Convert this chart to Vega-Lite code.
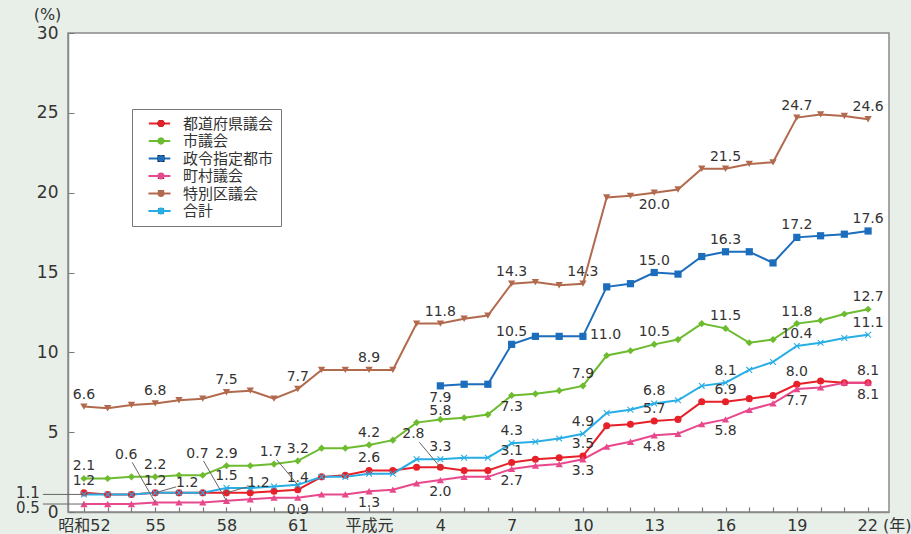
{
 "$schema": "https://vega.github.io/schema/vega-lite/v6.json",
 "width": 821, "height": 479,
 "autosize": {"type": "none"},
 "padding": {"left": 68, "top": 33, "right": 22, "bottom": 22},
 "background": "#e8efe9",
 "config": {
   "view": {"fill": "white", "stroke": "#8a8a8a", "strokeWidth": 1.5},
   "font": "DejaVu Sans, Noto Sans CJK JP, sans-serif"
 },
 "datasets": {
  "main": [
   {"series":"都道府県議会","year":1977,"value":1.2},{"series":"都道府県議会","year":1978,"value":1.1},{"series":"都道府県議会","year":1979,"value":1.1},{"series":"都道府県議会","year":1980,"value":1.2},{"series":"都道府県議会","year":1981,"value":1.2},{"series":"都道府県議会","year":1982,"value":1.2},{"series":"都道府県議会","year":1983,"value":1.2},{"series":"都道府県議会","year":1984,"value":1.2},{"series":"都道府県議会","year":1985,"value":1.3},{"series":"都道府県議会","year":1986,"value":1.4},{"series":"都道府県議会","year":1987,"value":2.2},{"series":"都道府県議会","year":1988,"value":2.3},{"series":"都道府県議会","year":1989,"value":2.6},{"series":"都道府県議会","year":1990,"value":2.6},{"series":"都道府県議会","year":1991,"value":2.8},{"series":"都道府県議会","year":1992,"value":2.8},{"series":"都道府県議会","year":1993,"value":2.6},{"series":"都道府県議会","year":1994,"value":2.6},{"series":"都道府県議会","year":1995,"value":3.1},{"series":"都道府県議会","year":1996,"value":3.3},{"series":"都道府県議会","year":1997,"value":3.4},{"series":"都道府県議会","year":1998,"value":3.5},{"series":"都道府県議会","year":1999,"value":5.4},{"series":"都道府県議会","year":2000,"value":5.5},{"series":"都道府県議会","year":2001,"value":5.7},{"series":"都道府県議会","year":2002,"value":5.8},{"series":"都道府県議会","year":2003,"value":6.9},{"series":"都道府県議会","year":2004,"value":6.9},{"series":"都道府県議会","year":2005,"value":7.1},{"series":"都道府県議会","year":2006,"value":7.3},{"series":"都道府県議会","year":2007,"value":8.0},{"series":"都道府県議会","year":2008,"value":8.2},{"series":"都道府県議会","year":2009,"value":8.1},{"series":"都道府県議会","year":2010,"value":8.1},
   {"series":"市議会","year":1977,"value":2.1},{"series":"市議会","year":1978,"value":2.1},{"series":"市議会","year":1979,"value":2.2},{"series":"市議会","year":1980,"value":2.2},{"series":"市議会","year":1981,"value":2.3},{"series":"市議会","year":1982,"value":2.3},{"series":"市議会","year":1983,"value":2.9},{"series":"市議会","year":1984,"value":2.9},{"series":"市議会","year":1985,"value":3.0},{"series":"市議会","year":1986,"value":3.2},{"series":"市議会","year":1987,"value":4.0},{"series":"市議会","year":1988,"value":4.0},{"series":"市議会","year":1989,"value":4.2},{"series":"市議会","year":1990,"value":4.5},{"series":"市議会","year":1991,"value":5.6},{"series":"市議会","year":1992,"value":5.8},{"series":"市議会","year":1993,"value":5.9},{"series":"市議会","year":1994,"value":6.1},{"series":"市議会","year":1995,"value":7.3},{"series":"市議会","year":1996,"value":7.4},{"series":"市議会","year":1997,"value":7.6},{"series":"市議会","year":1998,"value":7.9},{"series":"市議会","year":1999,"value":9.8},{"series":"市議会","year":2000,"value":10.1},{"series":"市議会","year":2001,"value":10.5},{"series":"市議会","year":2002,"value":10.8},{"series":"市議会","year":2003,"value":11.8},{"series":"市議会","year":2004,"value":11.5},{"series":"市議会","year":2005,"value":10.6},{"series":"市議会","year":2006,"value":10.8},{"series":"市議会","year":2007,"value":11.8},{"series":"市議会","year":2008,"value":12.0},{"series":"市議会","year":2009,"value":12.4},{"series":"市議会","year":2010,"value":12.7},
   {"series":"政令指定都市","year":1992,"value":7.9},{"series":"政令指定都市","year":1993,"value":8.0},{"series":"政令指定都市","year":1994,"value":8.0},{"series":"政令指定都市","year":1995,"value":10.5},{"series":"政令指定都市","year":1996,"value":11.0},{"series":"政令指定都市","year":1997,"value":11.0},{"series":"政令指定都市","year":1998,"value":11.0},{"series":"政令指定都市","year":1999,"value":14.1},{"series":"政令指定都市","year":2000,"value":14.3},{"series":"政令指定都市","year":2001,"value":15.0},{"series":"政令指定都市","year":2002,"value":14.9},{"series":"政令指定都市","year":2003,"value":16.0},{"series":"政令指定都市","year":2004,"value":16.3},{"series":"政令指定都市","year":2005,"value":16.3},{"series":"政令指定都市","year":2006,"value":15.6},{"series":"政令指定都市","year":2007,"value":17.2},{"series":"政令指定都市","year":2008,"value":17.3},{"series":"政令指定都市","year":2009,"value":17.4},{"series":"政令指定都市","year":2010,"value":17.6},
   {"series":"町村議会","year":1977,"value":0.5},{"series":"町村議会","year":1978,"value":0.5},{"series":"町村議会","year":1979,"value":0.5},{"series":"町村議会","year":1980,"value":0.6},{"series":"町村議会","year":1981,"value":0.6},{"series":"町村議会","year":1982,"value":0.6},{"series":"町村議会","year":1983,"value":0.7},{"series":"町村議会","year":1984,"value":0.8},{"series":"町村議会","year":1985,"value":0.9},{"series":"町村議会","year":1986,"value":0.9},{"series":"町村議会","year":1987,"value":1.1},{"series":"町村議会","year":1988,"value":1.1},{"series":"町村議会","year":1989,"value":1.3},{"series":"町村議会","year":1990,"value":1.4},{"series":"町村議会","year":1991,"value":1.8},{"series":"町村議会","year":1992,"value":2.0},{"series":"町村議会","year":1993,"value":2.2},{"series":"町村議会","year":1994,"value":2.2},{"series":"町村議会","year":1995,"value":2.7},{"series":"町村議会","year":1996,"value":2.9},{"series":"町村議会","year":1997,"value":3.0},{"series":"町村議会","year":1998,"value":3.3},{"series":"町村議会","year":1999,"value":4.1},{"series":"町村議会","year":2000,"value":4.4},{"series":"町村議会","year":2001,"value":4.8},{"series":"町村議会","year":2002,"value":4.9},{"series":"町村議会","year":2003,"value":5.5},{"series":"町村議会","year":2004,"value":5.8},{"series":"町村議会","year":2005,"value":6.4},{"series":"町村議会","year":2006,"value":6.8},{"series":"町村議会","year":2007,"value":7.7},{"series":"町村議会","year":2008,"value":7.8},{"series":"町村議会","year":2009,"value":8.1},{"series":"町村議会","year":2010,"value":8.1},
   {"series":"特別区議会","year":1977,"value":6.6},{"series":"特別区議会","year":1978,"value":6.5},{"series":"特別区議会","year":1979,"value":6.7},{"series":"特別区議会","year":1980,"value":6.8},{"series":"特別区議会","year":1981,"value":7.0},{"series":"特別区議会","year":1982,"value":7.1},{"series":"特別区議会","year":1983,"value":7.5},{"series":"特別区議会","year":1984,"value":7.6},{"series":"特別区議会","year":1985,"value":7.1},{"series":"特別区議会","year":1986,"value":7.7},{"series":"特別区議会","year":1987,"value":8.9},{"series":"特別区議会","year":1988,"value":8.9},{"series":"特別区議会","year":1989,"value":8.9},{"series":"特別区議会","year":1990,"value":8.9},{"series":"特別区議会","year":1991,"value":11.8},{"series":"特別区議会","year":1992,"value":11.8},{"series":"特別区議会","year":1993,"value":12.1},{"series":"特別区議会","year":1994,"value":12.3},{"series":"特別区議会","year":1995,"value":14.3},{"series":"特別区議会","year":1996,"value":14.4},{"series":"特別区議会","year":1997,"value":14.2},{"series":"特別区議会","year":1998,"value":14.3},{"series":"特別区議会","year":1999,"value":19.7},{"series":"特別区議会","year":2000,"value":19.8},{"series":"特別区議会","year":2001,"value":20.0},{"series":"特別区議会","year":2002,"value":20.2},{"series":"特別区議会","year":2003,"value":21.5},{"series":"特別区議会","year":2004,"value":21.5},{"series":"特別区議会","year":2005,"value":21.8},{"series":"特別区議会","year":2006,"value":21.9},{"series":"特別区議会","year":2007,"value":24.7},{"series":"特別区議会","year":2008,"value":24.9},{"series":"特別区議会","year":2009,"value":24.8},{"series":"特別区議会","year":2010,"value":24.6},
   {"series":"合計","year":1977,"value":1.1},{"series":"合計","year":1978,"value":1.1},{"series":"合計","year":1979,"value":1.1},{"series":"合計","year":1980,"value":1.2},{"series":"合計","year":1981,"value":1.2},{"series":"合計","year":1982,"value":1.2},{"series":"合計","year":1983,"value":1.5},{"series":"合計","year":1984,"value":1.5},{"series":"合計","year":1985,"value":1.6},{"series":"合計","year":1986,"value":1.7},{"series":"合計","year":1987,"value":2.2},{"series":"合計","year":1988,"value":2.2},{"series":"合計","year":1989,"value":2.4},{"series":"合計","year":1990,"value":2.4},{"series":"合計","year":1991,"value":3.3},{"series":"合計","year":1992,"value":3.3},{"series":"合計","year":1993,"value":3.4},{"series":"合計","year":1994,"value":3.4},{"series":"合計","year":1995,"value":4.3},{"series":"合計","year":1996,"value":4.4},{"series":"合計","year":1997,"value":4.6},{"series":"合計","year":1998,"value":4.9},{"series":"合計","year":1999,"value":6.2},{"series":"合計","year":2000,"value":6.4},{"series":"合計","year":2001,"value":6.8},{"series":"合計","year":2002,"value":7.0},{"series":"合計","year":2003,"value":7.9},{"series":"合計","year":2004,"value":8.1},{"series":"合計","year":2005,"value":8.9},{"series":"合計","year":2006,"value":9.4},{"series":"合計","year":2007,"value":10.4},{"series":"合計","year":2008,"value":10.6},{"series":"合計","year":2009,"value":10.9},{"series":"合計","year":2010,"value":11.1}
  ]
 },
 "data": {"name": "main"},
 "encoding": {
  "x": {"field": "year", "type": "quantitative",
        "scale": {"domain": [1976.33, 2010.88], "nice": false, "zero": false},
        "axis": {"title": null, "grid": false,
                 "values": [1977,1978,1979,1980,1981,1982,1983,1984,1985,1986,1987,1988,1989,1990,1991,1992,1993,1994,1995,1996,1997,1998,1999,2000,2001,2002,2003,2004,2005,2006,2007,2008,2009,2010],
                 "labelExpr": "datum.value==1977?'昭和52':datum.value==1980?'55':datum.value==1983?'58':datum.value==1986?'61':datum.value==1989?'平成元':datum.value==2010?'22 (年)':((datum.value-1988)%3==1?''+(datum.value-1988):'')",
                 "labelFlush": false, "labelOverlap": false,
                 "tickSize": -5, "tickColor": "#777", "tickWidth": 1.2,
                 "labelPadding": 10, "labelFontSize": 16, "labelColor": "#333",
                 "labelFont": "DejaVu Sans, Noto Sans CJK JP",
                 "labelAlign": {"condition": {"test": "datum.value==2010", "value": "left"}, "value": "center"},
                 "labelOffset": {"condition": {"test": "datum.value==2010", "value": -11}, "value": 0},
                 "domainColor": "#8a8a8a", "domainWidth": 1.5}},
  "y": {"field": "value", "type": "quantitative",
        "scale": {"domain": [0, 30], "nice": false},
        "axis": {"values": [0,5,10,15,20,25,30], "grid": false,
                 "title": "(%)", "titleAngle": 0, "titleX": -21, "titleY": -19,
                 "titleAlign": "center", "titleBaseline": "middle",
                 "titleFontSize": 16, "titleFontWeight": "normal", "titleFont": "DejaVu Sans", "titleColor": "#333",
                 "labelFontSize": 17, "labelColor": "#333", "labelFont": "DejaVu Sans",
                 "tickSize": -6, "tickColor": "#777", "labelPadding": 16, "labelOverlap": false,
                 "domainColor": "#8a8a8a", "domainWidth": 1.5}}
 },
 "layer": [
  {"mark": {"type": "line", "strokeWidth": 2},
   "encoding": {
     "color": {"field": "series", "type": "nominal",
            "scale": {"domain": ["都道府県議会","市議会","政令指定都市","町村議会","特別区議会","合計"],
                      "range": ["#e62129","#6dbb2f","#1c6dbb","#e8488c","#b26a4e","#28aee4"]},
            "legend": {"orient": "none", "legendX": 64, "legendY": 76, "title": null,
                       "symbolType": "M-3,0H3", "symbolSize": 100, "symbolStrokeWidth": 2,
                       "symbolOffset": 13, "labelOffset": 16,
                       "padding": 7, "rowPadding": 1.5,
                       "labelFontSize": 15, "labelFont": "Noto Sans CJK JP", "labelColor": "#333",
                       "strokeColor": "#777"}}
   }},
  {"mark": {"type": "point", "filled": true, "opacity": 1},
   "encoding": {
     "fill": {"field": "series", "type": "nominal",
              "sort": ["都道府県議会","市議会","政令指定都市","町村議会","特別区議会","合計"],
              "scale": {"range": ["#e62129","#6dbb2f","#1c6dbb","#e8488c","#b26a4e","#28aee4"]},
              "legend": {"orient": "none", "legendX": 64, "legendY": 76, "title": null,
                       "symbolSize": 48, "symbolOffset": 14.5, "labelOffset": 18,
                       "padding": 7, "rowPadding": 1.5, "symbolStrokeWidth": 0,
                       "labelFontSize": 15, "labelFont": "Noto Sans CJK JP", "labelExpr": "''",
                       "strokeColor": null}},
     "shape": {"field": "series", "type": "nominal",
               "sort": ["都道府県議会","市議会","政令指定都市","町村議会","特別区議会","合計"],
               "scale": {"range": ["circle","diamond","square","triangle-up","triangle-down","M0,0.212L-0.672,0.884L-0.884,0.672L-0.212,0L-0.884,-0.672L-0.672,-0.884L0,-0.212L0.672,-0.884L0.884,-0.672L0.212,0L0.884,0.672L0.672,0.884Z"]},
               "legend": {"orient": "none", "legendX": 64, "legendY": 76, "title": null,
                       "symbolSize": 48, "symbolOffset": 14.5, "labelOffset": 18,
                       "padding": 7, "rowPadding": 1.5, "symbolStrokeWidth": 0,
                       "labelFontSize": 15, "labelFont": "Noto Sans CJK JP", "labelExpr": "''",
                       "strokeColor": null}},
     "size": {"field": "series", "type": "nominal", "legend": null,
               "scale": {"domain": ["都道府県議会","市議会","政令指定都市","町村議会","特別区議会","合計"],
                         "range": [50, 55, 45, 55, 55, 120]}}
   }},
  {"transform": [{"filter": "indexof(['特別区議会|1977','特別区議会|1980','特別区議会|1983','特別区議会|1986','特別区議会|1989','特別区議会|1992','特別区議会|1995','特別区議会|1998','特別区議会|2004','特別区議会|2007','特別区議会|2010','政令指定都市|1995','政令指定都市|2001','政令指定都市|2004','政令指定都市|2007','政令指定都市|2010','市議会|1977','市議会|1980','市議会|1983','市議会|1986','市議会|1989','市議会|1998','市議会|2001','市議会|2004','市議会|2007','市議会|2010','合計|1980','合計|1983','合計|1992','合計|1995','合計|1998','合計|2001','合計|2004','合計|2007','合計|2010','都道府県議会|1977','都道府県議会|1986','都道府県議会|1989','都道府県議会|1995','都道府県議会|1998','都道府県議会|2001','都道府県議会|2004','都道府県議会|2007','都道府県議会|2010'], datum.series + '|' + datum.year) >= 0"}],
   "mark": {"type": "text", "dy": -12, "fontSize": 14, "font": "DejaVu Sans", "baseline": "middle", "color": "#333"},
   "encoding": {"text": {"field": "value", "type": "quantitative", "format": ".1f"}}},
  {"transform": [{"filter": "datum.series=='市議会' && datum.year==1992"}],
   "mark": {"type": "text", "dy": -8, "fontSize": 14, "font": "DejaVu Sans", "baseline": "middle", "color": "#333"},
   "encoding": {"text": {"field": "value", "type": "quantitative", "format": ".1f"}}},
  {"transform": [{"filter": "indexof(['特別区議会|2001','政令指定都市|1992','市議会|1995','町村議会|1986','町村議会|1989','町村議会|1992','町村議会|1995','町村議会|1998','町村議会|2001','町村議会|2004','町村議会|2007','町村議会|2010'], datum.series + '|' + datum.year) >= 0"}],
   "mark": {"type": "text", "dy": 12, "fontSize": 14, "font": "DejaVu Sans", "baseline": "middle", "color": "#333"},
   "encoding": {"text": {"field": "value", "type": "quantitative", "format": ".1f"}}},
  {"transform": [{"filter": "datum.series=='政令指定都市' && datum.year==1998"}],
   "mark": {"type": "text", "dx": 7, "dy": -1, "align": "left", "fontSize": 14, "font": "DejaVu Sans", "baseline": "middle", "color": "#333"},
   "encoding": {"text": {"field": "value", "type": "quantitative", "format": ".1f"}}},
  {"transform": [{"filter": "datum.series=='町村議会' && (datum.year==1980 || datum.year==1983)"}],
   "mark": {"type": "rule", "x2Offset": -23, "y2Offset": -40, "strokeWidth": 1, "color": "#666"},
   "encoding": {"x2": {"field": "year"}, "y2": {"field": "value"}}},
  {"transform": [{"filter": "datum.series=='町村議会' && (datum.year==1980 || datum.year==1983)"}],
   "mark": {"type": "text", "dx": -29, "dy": -47, "fontSize": 14, "font": "DejaVu Sans", "baseline": "middle", "color": "#333"},
   "encoding": {"text": {"field": "value", "type": "quantitative", "format": ".1f"}}},
  {"transform": [{"filter": "(datum.series=='合計' && datum.year==1986) || (datum.series=='都道府県議会' && datum.year==1992)"}],
   "mark": {"type": "rule", "x2Offset": -21, "y2Offset": -25, "strokeWidth": 1, "color": "#666"},
   "encoding": {"x2": {"field": "year"}, "y2": {"field": "value"}}},
  {"transform": [{"filter": "(datum.series=='合計' && datum.year==1986) || (datum.series=='都道府県議会' && datum.year==1992)"}],
   "mark": {"type": "text", "dx": -27, "dy": -33, "fontSize": 14, "font": "DejaVu Sans", "baseline": "middle", "color": "#333"},
   "encoding": {"text": {"field": "value", "type": "quantitative", "format": ".1f"}}},
  {"transform": [{"filter": "datum.series=='都道府県議会' && (datum.year==1980 || datum.year==1983)"}],
   "mark": {"type": "rule", "x2Offset": 21, "y2Offset": -6, "strokeWidth": 1, "color": "#666"},
   "encoding": {"x2": {"field": "year"}, "y2": {"field": "value"}}},
  {"transform": [{"filter": "datum.series=='都道府県議会' && (datum.year==1980 || datum.year==1983)"}],
   "mark": {"type": "text", "dx": 32, "dy": -10, "fontSize": 14, "font": "DejaVu Sans", "baseline": "middle", "color": "#333"},
   "encoding": {"text": {"field": "value", "type": "quantitative", "format": ".1f"}}},
  {"transform": [{"filter": "(datum.series=='合計' || datum.series=='町村議会') && datum.year==1977"}],
   "mark": {"type": "rule", "x2Offset": -41, "strokeWidth": 1, "color": "#666"},
   "encoding": {"x2": {"field": "year"}, "y2": {"field": "value"}}},
  {"transform": [{"filter": "datum.series=='合計' && datum.year==1977"}],
   "mark": {"type": "text", "dx": -44, "dy": -1, "align": "right", "fontSize": 15, "font": "DejaVu Sans", "baseline": "middle", "color": "#333"},
   "encoding": {"text": {"field": "value", "type": "quantitative", "format": ".1f"}}},
  {"transform": [{"filter": "datum.series=='町村議会' && datum.year==1977"}],
   "mark": {"type": "text", "dx": -44, "dy": 4, "align": "right", "fontSize": 15, "font": "DejaVu Sans", "baseline": "middle", "color": "#333"},
   "encoding": {"text": {"field": "value", "type": "quantitative", "format": ".1f"}}}
 ]
}
